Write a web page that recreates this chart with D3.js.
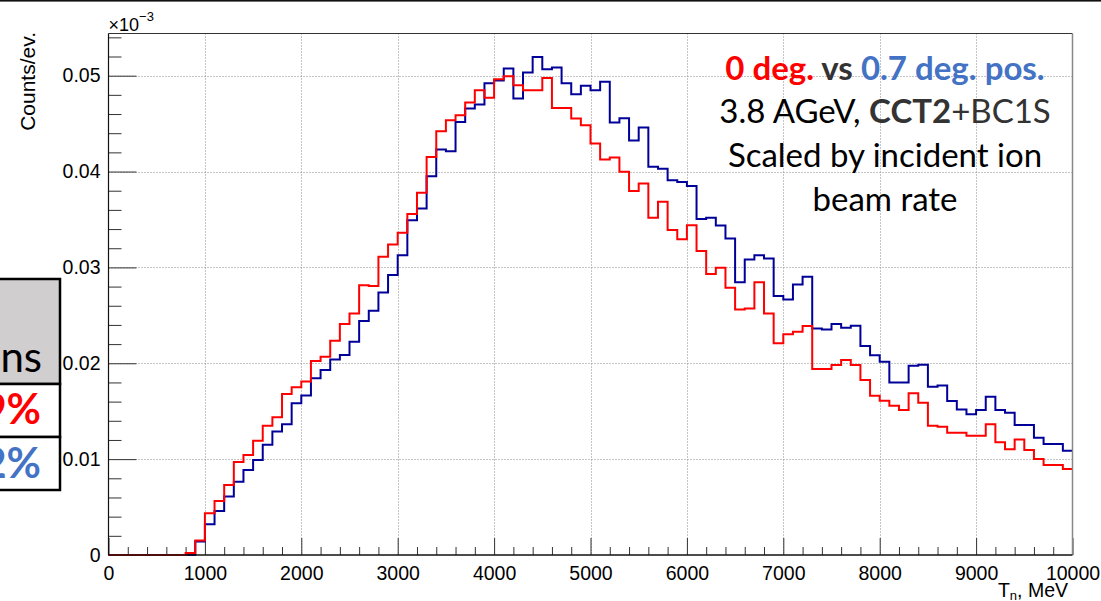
<!DOCTYPE html>
<html>
<head>
<meta charset="utf-8">
<script src="https://cdn.jsdelivr.net/npm/d3@7/dist/d3.min.js"></script>
<style>
  html, body { margin: 0; padding: 0; background: #fff; }
  svg { display: block; }
</style>
</head>
<body>
<svg id="chart" width="1101" height="601"></svg>
<script>
// Neutron kinetic energy spectra, 100 MeV bins from 0 to 10000 MeV
const binWidth = 100;
const energyRange = [0, 10000];

// 0 deg. position (red)
const counts0deg = [
  0, 0, 0, 0, 0, 0, 0, 0, 0.0002, 0.0015,
  0.00435, 0.00564, 0.0073, 0.0097, 0.01044, 0.01193, 0.01347, 0.01437, 0.0168, 0.0175,
  0.0181, 0.02025, 0.02068, 0.02235, 0.02409, 0.0252, 0.02815, 0.02805, 0.0311, 0.0324,
  0.03361, 0.03556, 0.03778, 0.04153, 0.04421, 0.04536, 0.04588, 0.0472, 0.04849, 0.04769,
  0.04962, 0.04995, 0.04901, 0.04849, 0.04849, 0.04977, 0.04664, 0.04664, 0.04554, 0.04484,
  0.04293, 0.04126, 0.04147, 0.03997, 0.03796, 0.03876, 0.03517, 0.03684, 0.03389, 0.03295,
  0.03441, 0.03172, 0.0293, 0.02996, 0.02787, 0.02562, 0.02572, 0.02844, 0.0252, 0.02208,
  0.02304, 0.02329, 0.02388, 0.0194, 0.0194, 0.01981, 0.02033, 0.01981, 0.01825, 0.01661,
  0.01609, 0.01557, 0.01512, 0.01686, 0.01588, 0.01348, 0.01338, 0.01275, 0.01275, 0.01244,
  0.01244, 0.01363, 0.01175, 0.01102, 0.01206, 0.01095, 0.01001, 0.00938, 0.00938, 0.00897
];

// 0.7 deg. position (blue)
const counts07deg = [
  0, 0, 0, 0, 0, 0, 0, 0, 0, 0.0014,
  0.0032, 0.0046, 0.0061, 0.00765, 0.00887, 0.00992, 0.01151, 0.01287, 0.01364, 0.01583,
  0.01663, 0.01843, 0.01929, 0.0204, 0.02086, 0.02224, 0.0244, 0.02548, 0.02739, 0.0292,
  0.03128, 0.03493, 0.03615, 0.03952, 0.0423, 0.04213, 0.04518, 0.04657, 0.047, 0.04922,
  0.0495, 0.05075, 0.04762, 0.05033, 0.05196, 0.05068, 0.05085, 0.0492, 0.04807, 0.04894,
  0.04849, 0.04936, 0.04512, 0.04557, 0.04324, 0.0446, 0.04049, 0.04028, 0.0391, 0.0389,
  0.0385, 0.03504, 0.03517, 0.03438, 0.03302, 0.02844, 0.03083, 0.03128, 0.03094, 0.02701,
  0.02666, 0.02823, 0.02902, 0.02364, 0.02353, 0.02409, 0.0237, 0.02391, 0.0218, 0.02083,
  0.02016, 0.018, 0.018, 0.01974, 0.01985, 0.01755, 0.01769, 0.01606, 0.01519, 0.01467,
  0.01512, 0.01651, 0.01512, 0.01484, 0.01356, 0.01356, 0.01223, 0.01157, 0.01157, 0.01088
];

const yAxisMax = 0.0544;
const xMajorTicks = [0, 1000, 2000, 3000, 4000, 5000, 6000, 7000, 8000, 9000, 10000];
const yMajorTicks = [0, 0.01, 0.02, 0.03, 0.04, 0.05];
const yTickLabels = ["0", "0.01", "0.02", "0.03", "0.04", "0.05"];

const svg = d3.select("#chart");
const W = 1101;
const frame = { left: 108.5, right: 1072.5, top: 33.5, bottom: 555 };

const x = d3.scaleLinear().domain(energyRange).range([frame.left, frame.right]);
const y = d3.scaleLinear().domain([0, yAxisMax]).range([frame.bottom, frame.top]);

const axisFont = "'Liberation Sans', Arial, Helvetica, sans-serif";
const textFont = "Lato, 'Open Sans', sans-serif";

// thin rule along the top edge
svg.append("rect").attr("x", 0).attr("y", 0).attr("width", W).attr("height", 1.6).attr("fill", "#111");

// dotted grid at major ticks
const grid = svg.append("g").attr("stroke", "#8a8a8a").attr("stroke-width", 1).attr("stroke-dasharray", "1,2");
grid.selectAll("line.gx").data(xMajorTicks.slice(1, -1)).join("line")
  .attr("x1", d => Math.round(x(d)) + 0.5).attr("x2", d => Math.round(x(d)) + 0.5)
  .attr("y1", frame.top).attr("y2", frame.bottom);
grid.selectAll("line.gy").data(yMajorTicks.slice(1)).join("line")
  .attr("y1", d => Math.round(y(d)) + 0.5).attr("y2", d => Math.round(y(d)) + 0.5)
  .attr("x1", frame.left).attr("x2", frame.right);

// minor ticks
const minorX = d3.range(0, 10001, 200).filter(v => v % 1000 !== 0);
const minorY = d3.range(0, 0.0541, 0.002).filter(v => Math.abs(v / 0.01 - Math.round(v / 0.01)) > 1e-6);

svg.append("g").attr("transform", `translate(0,${frame.bottom})`)
  .call(d3.axisBottom(x).tickValues(minorX).tickSize(-8).tickFormat(""))
  .call(g => g.select(".domain").remove())
  .call(g => g.selectAll("line").attr("stroke", "#333"));
svg.append("g").attr("transform", `translate(${frame.left},0)`)
  .call(d3.axisLeft(y).tickValues(minorY).tickSize(-13).tickFormat(""))
  .call(g => g.select(".domain").remove())
  .call(g => g.selectAll("line").attr("stroke", "#333"));

// major ticks and labels
svg.append("g").attr("transform", `translate(0,${frame.bottom})`)
  .call(d3.axisBottom(x).tickValues(xMajorTicks).tickSize(-17).tickPadding(11).tickFormat(d3.format("d")))
  .call(g => g.select(".domain").remove())
  .call(g => g.selectAll("line").attr("stroke", "#333"))
  .call(g => g.selectAll("text").attr("font-family", axisFont).attr("font-size", 19.5).attr("fill", "#000"));
svg.append("g").attr("transform", `translate(${frame.left},0)`)
  .call(d3.axisLeft(y).tickValues(yMajorTicks).tickSize(-28).tickPadding(8).tickFormat((d, i) => yTickLabels[i]))
  .call(g => g.select(".domain").remove())
  .call(g => g.selectAll("line").attr("stroke", "#333"))
  .call(g => g.selectAll("text").attr("font-family", axisFont).attr("font-size", 19.5).attr("fill", "#000"));

// histograms as step outlines
function stepPath(values) {
  const pts = [];
  values.forEach((v, i) => {
    const x0 = x(i * binWidth), x1 = x((i + 1) * binWidth);
    pts.push([x0, y(v)], [x1, y(v)]);
  });
  return d3.line()(pts);
}
svg.append("path").attr("d", stepPath(counts07deg))
  .attr("fill", "none").attr("stroke", "#000099").attr("stroke-width", 2).attr("stroke-linejoin", "miter");
svg.append("path").attr("d", stepPath(counts0deg))
  .attr("fill", "none").attr("stroke", "#ff0000").attr("stroke-width", 2).attr("stroke-linejoin", "miter");

// frame
svg.append("line").attr("x1", frame.left).attr("x2", frame.right).attr("y1", frame.top).attr("y2", frame.top)
  .attr("stroke", "#333").attr("stroke-width", 1.2);
svg.append("line").attr("x1", frame.right).attr("x2", frame.right).attr("y1", frame.top).attr("y2", frame.bottom)
  .attr("stroke", "#888").attr("stroke-width", 1.5);
svg.append("line").attr("x1", frame.left).attr("x2", frame.left).attr("y1", frame.top).attr("y2", frame.bottom)
  .attr("stroke", "#111").attr("stroke-width", 1.2);
svg.append("line").attr("x1", frame.left).attr("x2", frame.right).attr("y1", frame.bottom).attr("y2", frame.bottom)
  .attr("stroke", "#111").attr("stroke-width", 1.5);

// axis titles
svg.append("text").attr("transform", `translate(35,32) rotate(-90)`)
  .attr("text-anchor", "end").attr("font-family", axisFont).attr("font-size", 21).text("Counts/ev.");
const expo = svg.append("text").attr("x", frame.left).attr("y", 31)
  .attr("font-family", axisFont).attr("font-size", 18);
expo.append("tspan").text("\u00d710");
expo.append("tspan").attr("dy", -10).attr("font-size", 13).text("\u22123");

const xt = svg.append("text").attr("x", 1068).attr("y", 597).attr("text-anchor", "end")
  .attr("font-family", axisFont).attr("font-size", 19.5);
xt.append("tspan").text("T");
xt.append("tspan").attr("dy", 3).attr("font-size", 13).text("n");
xt.append("tspan").attr("dy", -3).text(", MeV");

// annotation block
const cx = 885;
const l1 = svg.append("text").attr("x", cx).attr("y", 80).attr("text-anchor", "middle")
  .attr("font-family", textFont).attr("font-size", 33).attr("font-weight", "bold");
l1.append("tspan").attr("fill", "#ff0000").text("0 deg.");
l1.append("tspan").attr("fill", "#333").text(" vs ");
l1.append("tspan").attr("fill", "#4472c4").text("0.7 deg. pos.");

const l2 = svg.append("text").attr("x", cx).attr("y", 123).attr("text-anchor", "middle")
  .attr("font-family", textFont).attr("font-size", 33);
l2.append("tspan").attr("fill", "#000").text("3.8 AGeV, ");
l2.append("tspan").attr("fill", "#333").attr("font-weight", "bold").text("CCT2");
l2.append("tspan").attr("fill", "#333").text("+BC1S");

svg.append("text").attr("x", cx).attr("y", 167).attr("text-anchor", "middle")
  .attr("font-family", textFont).attr("font-size", 33).attr("fill", "#000").text("Scaled by incident ion");
svg.append("text").attr("x", cx).attr("y", 211).attr("text-anchor", "middle")
  .attr("font-family", textFont).attr("font-size", 33).attr("fill", "#000").text("beam rate");

// table fragment on the left edge
const table = svg.append("g");
table.append("rect").attr("x", -10).attr("y", 279).attr("width", 70).attr("height", 105)
  .attr("fill", "#d0cece").attr("stroke", "#000").attr("stroke-width", 2.5);
table.append("rect").attr("x", -10).attr("y", 384).attr("width", 70).attr("height", 53)
  .attr("fill", "#fff").attr("stroke", "#000").attr("stroke-width", 2.5);
table.append("rect").attr("x", -10).attr("y", 437).attr("width", 70).attr("height", 53)
  .attr("fill", "#fff").attr("stroke", "#000").attr("stroke-width", 2.5);
table.append("text").attr("x", 42).attr("y", 372).attr("text-anchor", "end")
  .attr("font-family", textFont).attr("font-size", 42).attr("fill", "#000").text("ons");
table.append("text").attr("x", 41).attr("y", 424).attr("text-anchor", "end")
  .attr("font-family", textFont).attr("font-size", 42).attr("font-weight", "bold").attr("fill", "#ff0000").text("9%");
table.append("text").attr("x", 41).attr("y", 478).attr("text-anchor", "end")
  .attr("font-family", textFont).attr("font-size", 42).attr("font-weight", "bold").attr("fill", "#4472c4").text("2%");
</script>
</body>
</html>
